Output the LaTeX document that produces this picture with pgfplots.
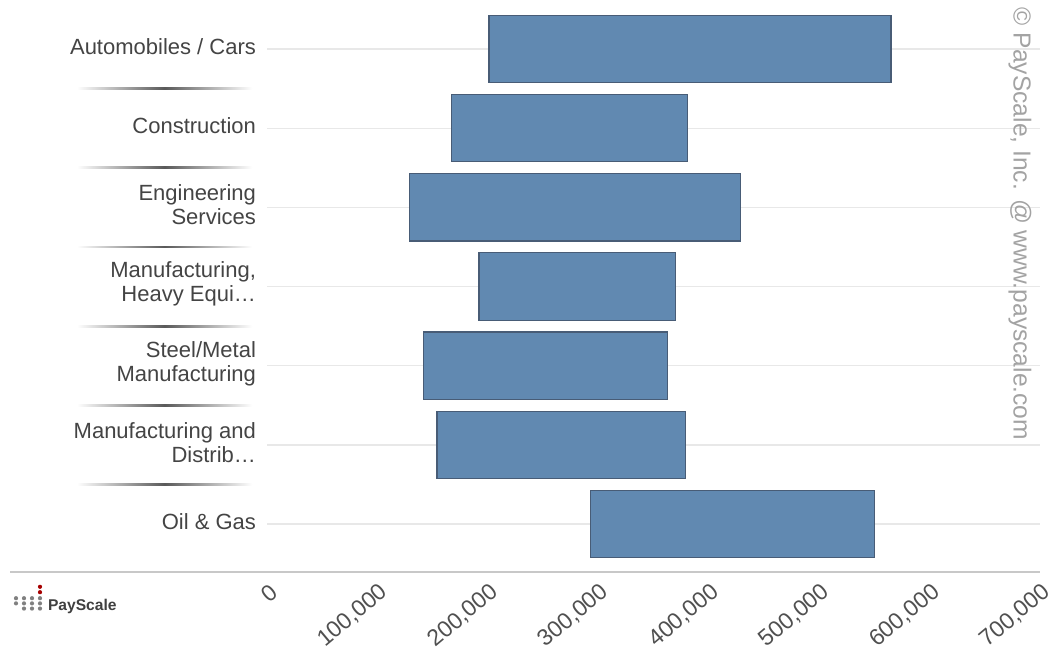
\documentclass[border=0pt]{standalone}
\usepackage{fontspec}
\setmainfont{Liberation Sans}
\usepackage{pgfplots}
\usepackage{pgfplotstable}
\pgfplotsset{compat=1.18}
\definecolor{barblue}{RGB}{97,137,177}
\definecolor{bardark}{RGB}{72,92,118}
\definecolor{labelgray}{RGB}{68,68,68}
\definecolor{ticklabelgray}{RGB}{80,80,80}
\definecolor{gridgray}{RGB}{232,232,232}
\definecolor{axisgray}{RGB}{200,200,200}

\pgfplotstableread{
idx low high
0 201000 565000
1 167000 381000
2 129000 429000
3 192000 370000
4 142000 363000
5 154000 379000
6 293000 550000
}\datatable

\begin{document}
\begin{tikzpicture}
\useasboundingbox (0,0) rectangle (525.5pt,326pt);
\begin{axis}[
  at={(133.5pt,40.2pt)}, anchor=south west,
  scale only axis,
  width=386.5pt, height=281.1pt,
  xbar stacked,
  bar width=0.85,
  xmin=0, xmax=700000,
  ymin=-0.5, ymax=6.6,
  y dir=reverse,
  axis line style={draw=none},
  clip=false,
  ytick={0,1,2,3,4,5,6},
  yticklabels={{Automobiles / Cars},{Construction},{Engineering\\Services},{Manufacturing,\\Heavy Equi\ldots},{Steel/Metal\\Manufacturing},{Manufacturing and\\Distrib\ldots},{Oil \& Gas}},
  yticklabel style={align=right, font=\fontsize{11}{12}\selectfont, text=labelgray, xshift=-2pt, yshift=1.2pt},
  xtick={0,100000,200000,300000,400000,500000,600000,700000},
  scaled x ticks=false,
  xticklabel style={xshift=3.7pt, yshift=-8.6pt, rotate=40, anchor=east, inner sep=0pt, font=\fontsize{11.5}{13}\selectfont, text=ticklabelgray},
  /pgf/number format/.cd, fixed, 1000 sep={,}, assume math mode=true, /pgfplots/.cd,
  major tick length=0pt,
  tick style={draw=none},
  ymajorgrids,
  grid style={gridgray, line width=0.6pt},
]
\draw[axisgray, line width=1pt] (axis cs:-232700,6.6) -- (axis cs:700000,6.6);
\pgfplotsinvokeforeach{0.5,1.5,2.5,3.5,4.5,5.5}{
  \shade[left color=white, right color=white, middle color=black!65]
    ([yshift=-0.45pt]axis cs:-172200,#1) rectangle ([yshift=0.45pt]axis cs:-13300,#1);
}
\addplot[draw=none, fill=none] table[x=low, y=idx]{\datatable};
\addplot[fill=barblue, draw=bardark, line width=0.6pt] table[x expr=\thisrow{high}-\thisrow{low}, y=idx]{\datatable};
\end{axis}
\node[rotate=-90, text=black!36, font=\fontsize{12.3}{14}\selectfont] at (510pt,214pt) {© PayScale, Inc. @ www.payscale.com};
% logo
\foreach \cx/\n in {8/2,12/3,16/3,20/3}{
  \foreach \r in {1,...,\n}{
    \fill[black!50] (\cx pt, {29.5pt - \r*2.6pt}) circle (1.05pt);
  }
}
\fill[red!65!black] (20pt,32.6pt) circle (1.05pt);
\fill[red!65!black] (20pt,29.9pt) circle (1.05pt);
\node[anchor=west, font=\bfseries\fontsize{7.8}{9}\selectfont, text=black!75, inner sep=0pt] at (23.8pt,22.8pt) {PayScale};
\end{tikzpicture}
\end{document}
